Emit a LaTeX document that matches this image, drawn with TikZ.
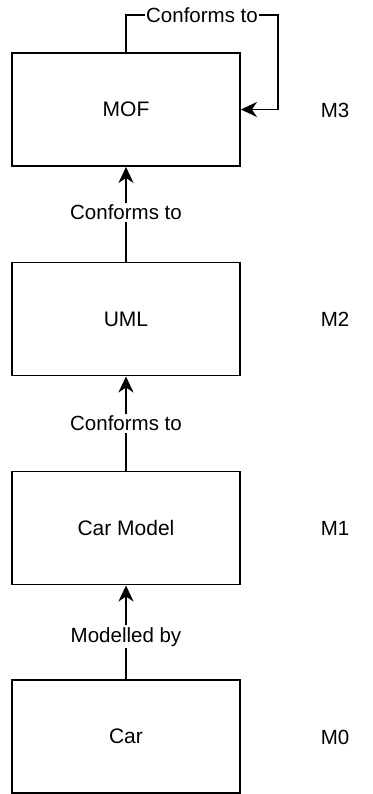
\documentclass[tikz,border=0pt]{standalone}
\usepackage{fontspec}
\setmainfont{Liberation Sans}
\usetikzlibrary{arrows.meta}
\begin{document}
\begin{tikzpicture}[x=1pt,y=-1pt,
  box/.style={draw, line width=1.9pt, minimum width=228pt, minimum height=113pt, inner sep=0pt, font=\fontsize{21}{25}\selectfont},
  lbl/.style={font=\fontsize{20.5}{24}\selectfont, fill=white, inner sep=2pt},
  conn/.style={line width=1.9pt, -{Stealth[length=16pt,width=15pt,inset=5pt]}},
  lvl/.style={font=\fontsize{20.5}{24}\selectfont}]
\useasboundingbox (0,0) rectangle (372,794);
\node[box] (mof) at (126,109.5) {MOF};
\node[box] (uml) at (126,319) {UML};
\node[box] (cm) at (126,528) {Car Model};
\node[box] (car) at (126,736.5) {Car};
\node[lvl] (m3) at (335,110) {M3};
\node[lvl] (m2) at (335,319) {M2};
\node[lvl] (m1) at (335,528) {M1};
\node[lvl] (m0) at (335,737) {M0};
\coordinate (l1) at (126,15);
\coordinate (l2) at (278,15);
\draw[conn] (mof.north) -- (l1) -- node[lbl, inner sep=1pt]{Conforms to} (l2) |- (mof.east);
\draw[conn] (uml.north) -- node[lbl, pos=0.52]{Conforms to} (mof.south);
\draw[conn] (cm.north) -- node[lbl]{Conforms to} (uml.south);
\draw[conn] (car.north) -- node[lbl, pos=0.45]{Modelled by} (cm.south);
\end{tikzpicture}
\end{document}
